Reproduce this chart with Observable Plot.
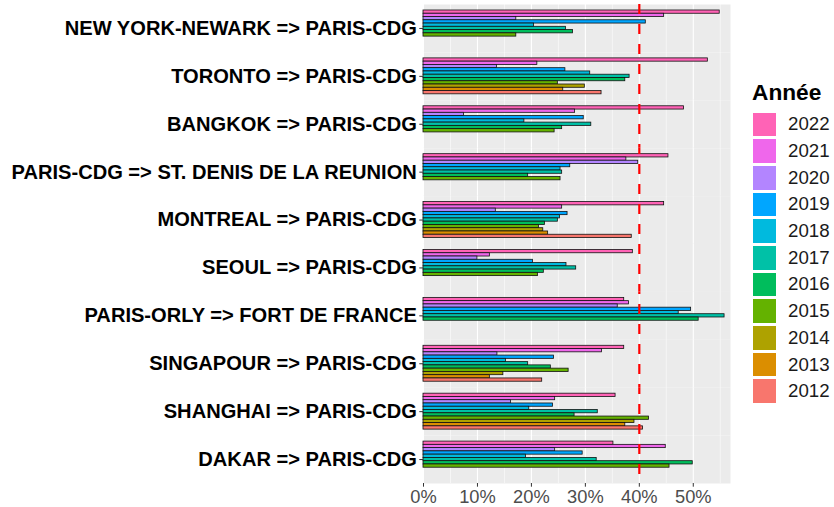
<!DOCTYPE html>
<html>
<head>
<meta charset="utf-8">
<script src="https://cdn.jsdelivr.net/npm/d3@7"></script>
<script src="https://cdn.jsdelivr.net/npm/@observablehq/plot@0.6"></script>
<style>
  html, body { margin: 0; padding: 0; background: #ffffff; }
  #wrap { position: relative; width: 834px; height: 507px; font-family: "Liberation Sans", Arial, sans-serif; }
  #legend { position: absolute; left: 752px; top: 78px; }
  #legend .title { font-weight: bold; font-size: 22.7px; color: #000; height: 28px; line-height: 28px; margin-bottom: 5px; }
  #legend .row { display: flex; align-items: center; height: 26.7px; }
  #legend .key { width: 25px; height: 25.7px; box-sizing: border-box; border: 0.5px solid #fff; }
  #legend .lab { margin-left: 11px; font-size: 18.7px; color: #1a1a1a; }
</style>
</head>
<body>
<div id="wrap"><div id="chart"></div><div id="legend"></div></div>
<script>
// Categories (top to bottom)
const routes = [
  "NEW YORK-NEWARK => PARIS-CDG",
  "TORONTO => PARIS-CDG",
  "BANGKOK => PARIS-CDG",
  "PARIS-CDG => ST. DENIS DE LA REUNION",
  "MONTREAL => PARIS-CDG",
  "SEOUL => PARIS-CDG",
  "PARIS-ORLY => FORT DE FRANCE",
  "SINGAPOUR => PARIS-CDG",
  "SHANGHAI => PARIS-CDG",
  "DAKAR => PARIS-CDG"
];
// Years, top of each group to bottom
const years = ["2022","2021","2020","2019","2018","2017","2016","2015","2014","2013","2012"];
const yearColors = ["#FF63B6","#EF67EB","#B385FF","#00A6FF","#00BADE","#00C1A7","#00BD5C","#64B200","#AEA200","#DB8E00","#F8766D"];

// Values (%) per route, in the order of `years`; null = no bar
const newYorkNewark = [54.9, 44.6, 17.2, 41.2, 20.5, 26.4, 27.7, 17.2, null, null, null];
const toronto       = [52.7, 21.1, 13.6, 26.3, 30.9, 38.2, 37.4, 24.9, 29.9, 25.9, 33.0];
const bangkok       = [48.3, 28.1, 7.5, 29.7, 18.7, 31.1, 25.7, 24.3, null, null, null];
const stDenis       = [45.4, 37.6, 39.8, 27.2, 25.4, 25.7, 19.4, 25.4, null, null, null];
const montreal      = [44.6, 25.7, 13.4, 26.7, 25.3, 24.9, 22.5, 21.4, 22.2, 23.1, 38.6];
const seoul         = [38.8, 12.3, 10.0, 20.3, 26.5, 28.3, 22.3, 21.2, null, null, null];
const fortDeFrance  = [37.2, 38.1, 36.0, 49.6, 47.3, 55.8, 51.0, null, null, null, null];
const singapour     = [37.2, 33.1, 13.7, 24.2, 15.3, 19.4, 23.6, 26.9, 14.8, 12.3, 22.0];
const shanghai      = [35.6, 24.4, 16.2, 24.0, 19.6, 32.3, 28.0, 41.8, 39.1, 37.4, 40.7];
const dakar         = [35.2, 44.9, 24.4, 29.5, 19.0, 32.1, 49.9, 45.6, null, null, null];

const seriesByRoute = [newYorkNewark, toronto, bangkok, stDenis, montreal, seoul, fortDeFrance, singapour, shanghai, dakar];

const xMajorTicks = [0, 10, 20, 30, 40, 50];
const xMinorTicks = [5, 15, 25, 35, 45, 55];
const threshold = 40;

const data = [];
routes.forEach((route, i) => {
  seriesByRoute[i].forEach((v, j) => {
    if (v != null) data.push({route, year: years[j], value: v});
  });
});

const W = 834, H = 507, mTop = 4, mBottom = 24;
const facetH = (H - mTop - mBottom) / routes.length;

// dashed threshold line, one piece per facet, with dash phase continued across facets
const thresholdMarks = routes.map((route, i) =>
  Plot.ruleX([{route, x: threshold}], {x: "x", fy: "route", stroke: "#FF0000", strokeWidth: 2.2,
    strokeDasharray: "10,10", strokeDashoffset: (i * facetH) % 20})
);

const chart = Plot.plot({
  width: W,
  height: H,
  marginLeft: 423,
  marginRight: 104,
  marginTop: mTop,
  marginBottom: mBottom,
  style: {fontFamily: "'Liberation Sans', Arial, sans-serif", background: "transparent"},
  x: {domain: [0, 56.9]},
  y: {domain: years, paddingInner: 0, paddingOuter: 1.833, round: false, axis: null},
  fy: {domain: routes, padding: 0, round: false},
  color: {domain: years, range: yearColors},
  marks: [
    Plot.frame({fill: "#EBEBEB", stroke: null}),
    Plot.ruleX(xMinorTicks, {stroke: "#ffffff", strokeWidth: 0.55}),
    Plot.ruleX(xMajorTicks, {stroke: "#ffffff", strokeWidth: 1.1}),
    Plot.barX(data, {x: "value", y: "year", fy: "route", fill: "year", stroke: "#111", strokeWidth: 0.8}),
    ...thresholdMarks,
    Plot.axisX(xMajorTicks, {anchor: "bottom", tickFormat: d => d + "%", tickSize: 3.7, tickPadding: 2.5, fontSize: 18.3, fill: "#4D4D4D", stroke: "#333", label: null}),
    Plot.axisFy({anchor: "left", tickSize: 3.7, tickPadding: 3, fontSize: 20.1, fontWeight: "bold", fill: "#000", stroke: "#333", label: null})
  ]
});
document.getElementById("chart").appendChild(chart);

// Legend
const legend = d3.select("#legend");
legend.append("div").attr("class", "title").text("Année");
years.forEach((y, i) => {
  const row = legend.append("div").attr("class", "row");
  row.append("div").attr("class", "key").style("background", yearColors[i]);
  row.append("div").attr("class", "lab").text(y);
});
</script>
</body>
</html>
